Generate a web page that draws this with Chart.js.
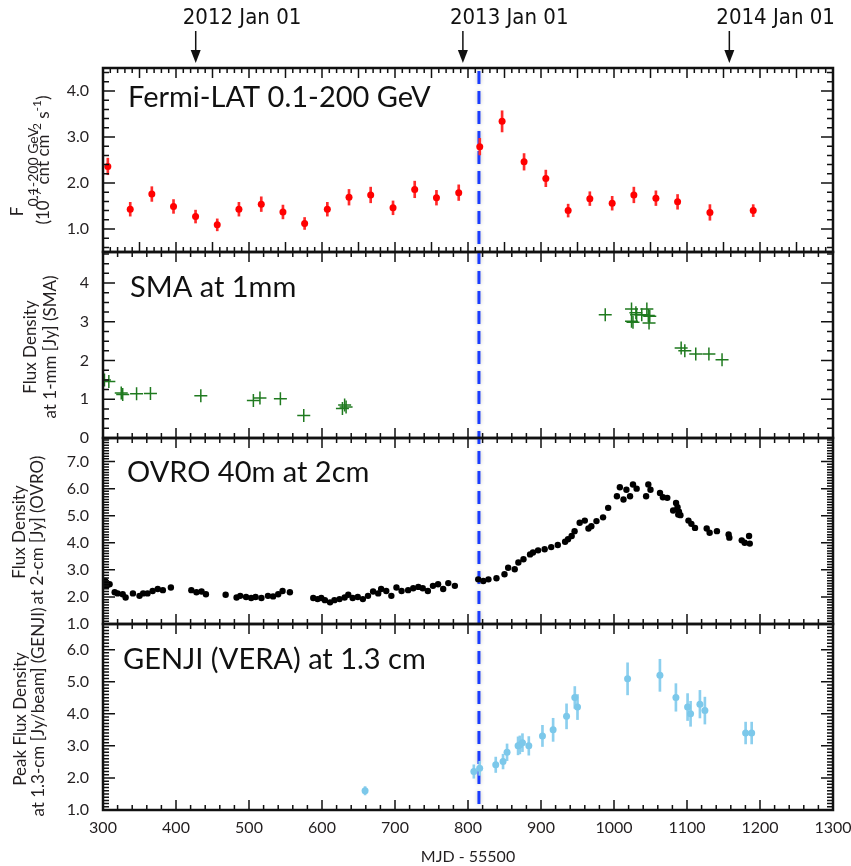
<!DOCTYPE html>
<html>
<head>
<meta charset="utf-8">
<script src="https://cdn.jsdelivr.net/npm/chart.js@4.4.0/dist/chart.umd.min.js"></script>
<style>
  html, body { margin: 0; padding: 0; background: #fff; }
  #wrap { position: relative; width: 851px; height: 866px; overflow: hidden; }
  #wrap canvas { position: absolute; left: 0; top: 0; }
</style>
</head>
<body>
<div id="wrap">
  <canvas id="fermi" width="880" height="866"></canvas>
  <canvas id="sma" width="880" height="866"></canvas>
  <canvas id="ovro" width="880" height="866"></canvas>
  <canvas id="genji" width="880" height="866"></canvas>
</div>
<script>
// shared x axis (MJD - 55500)
const xMin = 300, xMax = 1300;
const xTickValues = [300, 400, 500, 600, 700, 800, 900, 1000, 1100, 1200, 1300];

// calendar marks on top and the flare line
const dateLabels = ['2012 Jan 01', '2013 Jan 01', '2014 Jan 01'];
const dateMjd = [427, 793, 1158];
const flareMjd = 815;

// Fermi-LAT 0.1-200 GeV
const fermiMjd = [306.6, 337.3, 366.9, 396.6, 426.8, 456.5, 486.2, 516.8, 546.5, 576.2, 607.3, 637.0, 666.7, 697.3, 727.0,
  756.8, 787.3, 816.1, 846.7, 876.8, 906.6, 937.2, 966.9, 997.5, 1027.2, 1057.4, 1087.1, 1131.4, 1190.7];
const fermiFlux = [2.36, 1.43, 1.76, 1.49, 1.27, 1.09, 1.43, 1.54, 1.37, 1.12, 1.43, 1.69, 1.74, 1.46, 1.86,
  1.68, 1.79, 2.79, 3.34, 2.46, 2.10, 1.40, 1.66, 1.56, 1.74, 1.67, 1.59, 1.36, 1.40];
const fermiErr = [0.18, 0.15, 0.16, 0.15, 0.14, 0.13, 0.15, 0.16, 0.15, 0.13, 0.15, 0.17, 0.17, 0.15, 0.18,
  0.16, 0.17, 0.18, 0.23, 0.18, 0.18, 0.14, 0.15, 0.15, 0.17, 0.16, 0.16, 0.17, 0.13];
const fermiYTicks = [1, 2, 3, 4];
const fermiYLabels = ['1.0', '2.0', '3.0', '4.0'];

// SMA 1mm
const smaMjd = [302, 308, 325, 327, 346, 365, 434, 506, 515, 543, 575, 628, 631, 633,
  988, 1024, 1024, 1026, 1030, 1031, 1038, 1045, 1047, 1049, 1048, 1092, 1097, 1112, 1130, 1148];
const smaFlux = [1.50, 1.46, 1.16, 1.12, 1.14, 1.15, 1.09, 0.97, 1.03, 1.01, 0.58, 0.76, 0.85, 0.80,
  3.18, 3.33, 3.01, 2.99, 3.23, 3.18, 3.18, 3.33, 3.16, 3.14, 2.97, 2.32, 2.25, 2.17, 2.17, 2.02];
const smaYTicks = [0, 1, 2, 3, 4];
const smaYLabels = ['0', '1', '2', '3', '4'];

// OVRO 40m 2cm
const ovroMjd = [303, 305, 309, 316, 320, 327, 331, 341, 350, 355, 361, 368, 375, 382, 393, 421, 428, 435, 441, 468,
  483, 488, 496, 503, 509, 517, 526, 533, 540, 546, 556, 588, 594, 599, 604, 611, 617, 624, 631, 636,
  642, 649, 656, 663, 670, 677, 681, 688, 695, 702, 709, 718, 725, 732, 738, 745, 752, 759, 766, 773,
  782, 814, 821, 828, 839, 850, 855, 864, 869, 876, 885, 889, 896, 905, 914, 923, 933, 937, 942, 946,
  953, 960, 965, 969, 976, 985, 992, 1004, 1008, 1013, 1017, 1022, 1026, 1031, 1044, 1047, 1050, 1063, 1067, 1073,
  1081, 1085, 1087, 1088, 1089, 1091, 1102, 1106, 1111, 1127, 1131, 1141, 1157, 1158, 1175, 1179, 1185, 1186];
const ovroFlux = [2.59, 2.41, 2.47, 2.17, 2.13, 2.10, 1.98, 2.13, 2.04, 2.13, 2.13, 2.22, 2.29, 2.25, 2.35, 2.25, 2.17, 2.20, 2.10, 2.08,
  1.98, 2.04, 2.00, 1.96, 2.00, 1.96, 2.04, 2.02, 2.10, 2.22, 2.17, 1.96, 1.92, 1.96, 1.88, 1.80, 1.88, 1.92, 1.98, 2.08,
  1.96, 2.00, 1.92, 2.04, 2.20, 2.13, 2.29, 2.22, 2.04, 2.35, 2.22, 2.25, 2.32, 2.37, 2.32, 2.22, 2.41, 2.47, 2.29, 2.51,
  2.41, 2.65, 2.59, 2.65, 2.69, 2.84, 3.08, 3.02, 3.27, 3.39, 3.57, 3.64, 3.72, 3.76, 3.84, 3.92, 4.04, 4.13, 4.25, 4.43,
  4.74, 4.82, 4.53, 4.61, 4.80, 4.94, 5.29, 5.72, 6.05, 5.60, 5.96, 5.72, 6.15, 6.00, 5.72, 6.15, 5.96, 5.84, 5.68, 5.66,
  5.19, 5.47, 5.31, 5.04, 5.15, 5.02, 4.82, 4.70, 4.55, 4.53, 4.37, 4.43, 4.31, 4.19, 4.09, 4.00, 4.25, 3.97];
const ovroYTicks = [1, 2, 3, 4, 5, 6, 7];
const ovroYLabels = ['1.0', '2.0', '3.0', '4.0', '5.0', '6.0', '7.0'];

// GENJI (VERA) 1.3cm
const genjiMjd = [659, 808, 816, 838, 848, 853.5, 868.6, 871, 874.6, 883.3, 902, 916.6, 935, 946.3, 950,
  1018.6, 1062.9, 1084.8, 1100.8, 1104.9, 1117.7, 1124.5, 1180.3, 1188.6];
const genjiFlux = [1.60, 2.20, 2.30, 2.41, 2.51, 2.80, 3.00, 3.03, 3.10, 3.00, 3.31, 3.50, 3.92, 4.51, 4.21,
  5.09, 5.20, 4.51, 4.21, 4.00, 4.30, 4.10, 3.40, 3.40];
const genjiErr = [0.13, 0.21, 0.22, 0.24, 0.23, 0.26, 0.28, 0.28, 0.28, 0.29, 0.33, 0.36, 0.39, 0.34, 0.39,
  0.50, 0.50, 0.43, 0.42, 0.39, 0.43, 0.42, 0.34, 0.34];
const genjiYTicks = [1, 2, 3, 4, 5, 6];
const genjiYLabels = ['1.0', '2.0', '3.0', '4.0', '5.0', '6.0'];

const FONT = "Lato, 'Open Sans', sans-serif";
const INK = '#231f20';

// draws rotated (bottom-to-top) text made of parts [text, size, shift]
function drawVertical(ctx, x, y, parts) {
    ctx.save();
    ctx.translate(x, y);
    ctx.rotate(-Math.PI / 2);
    ctx.textBaseline = 'middle';
    ctx.textAlign = 'left';
    let w = 0;
    parts.forEach(p => { ctx.font = p[1] + 'px ' + FONT; w += ctx.measureText(p[0]).width; });
    let cx = -w / 2;
    parts.forEach(p => {
        ctx.font = p[1] + 'px ' + FONT;
        ctx.fillText(p[0], cx, p[2]);
        cx += ctx.measureText(p[0]).width;
    });
    ctx.restore();
}

function makeFrame(p) {
    return {
        id: 'frame_' + p.id,
        beforeDatasetsDraw(chart) {
            const ctx = chart.ctx, a = chart.chartArea;
            const x = chart.scales.x.getPixelForValue(flareMjd);
            const y0 = p.id === 'fermi' ? a.top + 3 : a.top;
            ctx.save();
            ctx.strokeStyle = '#1a3cff';
            ctx.lineWidth = 3;
            ctx.setLineDash([13, 7]);
            ctx.lineDashOffset = (y0 - 71) % 20;
            ctx.shadowColor = 'rgba(0,0,0,0.25)';
            ctx.shadowBlur = 4;
            ctx.beginPath();
            ctx.moveTo(x, y0);
            ctx.lineTo(x, a.bottom);
            ctx.stroke();
            ctx.restore();
        },
        afterDraw(chart) {
            const ctx = chart.ctx, a = chart.chartArea;
            const xs = chart.scales.x, ys = chart.scales.y;
            ctx.save();
            ctx.strokeStyle = '#111';
            ctx.lineWidth = 1.5;
            ctx.beginPath();
            for (let k = Math.ceil(xMin / p.xMinor); k * p.xMinor <= xMax + 1e-9; k++) {
                const v = k * p.xMinor;
                const px = xs.getPixelForValue(v);
                const len = Math.abs(v / p.xMajor - Math.round(v / p.xMajor)) < 1e-6 ? 10 : 5;
                ctx.moveTo(px, a.top); ctx.lineTo(px, a.top + len);
                ctx.moveTo(px, a.bottom); ctx.lineTo(px, a.bottom - len);
            }
            for (let k = Math.ceil(p.yMin / p.yMinor - 1e-9); k * p.yMinor <= p.yMax + 1e-9; k++) {
                const v = k * p.yMinor;
                const py = ys.getPixelForValue(v);
                const len = Math.abs(v - Math.round(v)) < 1e-6 ? 12 : 6;
                ctx.moveTo(a.left, py); ctx.lineTo(a.left + len, py);
                ctx.moveTo(a.right, py); ctx.lineTo(a.right - len, py);
            }
            ctx.stroke();
            ctx.lineWidth = 2.5;
            ctx.strokeRect(a.left, a.top, a.right - a.left, a.bottom - a.top);

            ctx.fillStyle = '#111';
            ctx.font = '29px ' + FONT;
            ctx.textAlign = 'left';
            ctx.textBaseline = 'alphabetic';
            ctx.fillText(p.title, p.titleX, p.titleY);

            ctx.fillStyle = INK;
            p.yTitle.forEach(line => drawVertical(ctx, line.x, line.y, line.parts));

            if (p.id === 'fermi') {
                ctx.font = "22px 'Liberation Sans Narrow', 'DejaVu Sans Condensed', sans-serif";
                ctx.textAlign = 'left';
                ctx.textBaseline = 'middle';
                ctx.fillStyle = '#111';
                ctx.strokeStyle = '#111';
                ctx.lineWidth = 1.5;
                dateLabels.forEach((lab, i) => {
                    const px = xs.getPixelForValue(dateMjd[i]);
                    ctx.fillText(lab, px - 13, 18);
                    ctx.beginPath();
                    ctx.moveTo(px, 31); ctx.lineTo(px, 55);
                    ctx.stroke();
                    ctx.beginPath();
                    ctx.moveTo(px - 5, 50); ctx.lineTo(px + 5, 50); ctx.lineTo(px, 63); ctx.closePath();
                    ctx.fill();
                });
            }
            ctx.restore();
        }
    };
}

function errorBars(mjd, flux, err, color) {
    return {
        type: 'bar',
        data: mjd.map((m, i) => ({ x: m, y: [flux[i] - err[i], flux[i] + err[i]] })),
        backgroundColor: color,
        borderWidth: 0,
        barThickness: 2,
        order: 2
    };
}

function makeChart(p, datasets) {
    const bottom = p.id === 'genji';
    return new Chart(document.getElementById(p.id), {
        type: 'scatter',
        data: { datasets },
        options: {
            responsive: false,
            animation: false,
            layout: { padding: { left: 0, right: 880 - 833, top: p.top, bottom: bottom ? 0 : 866 - p.bottom } },
            plugins: { legend: { display: false }, tooltip: { enabled: false } },
            scales: {
                x: {
                    type: 'linear', min: xMin, max: xMax, offset: false, display: bottom,
                    afterBuildTicks: s => { s.ticks = xTickValues.map(v => ({ value: v })); },
                    ticks: { callback: v => String(v), font: { family: FONT, size: 16 }, color: INK, padding: 8, maxRotation: 0, autoSkip: false },
                    grid: { display: false, drawTicks: false },
                    border: { display: false },
                    title: { display: true, text: 'MJD - 55500', font: { family: FONT, size: 16 }, color: INK, padding: 0 },
                    afterFit: s => { s.height = bottom ? 866 - p.bottom : 0; }
                },
                y: {
                    type: 'linear', position: 'left', min: p.yMin, max: p.yMax,
                    afterBuildTicks: s => { s.ticks = p.yTicks.map(v => ({ value: v })); },
                    ticks: { callback: (v, i) => p.yLabels[i], font: { family: FONT, size: 16 }, color: INK, padding: 14 },
                    grid: { display: false, drawTicks: false },
                    border: { display: false },
                    afterFit: s => { s.width = 103; }
                }
            }
        },
        plugins: [makeFrame(p)]
    });
}

const panels = {
    fermi: { id: 'fermi', top: 68, bottom: 252, yMin: 0.5, yMax: 4.5, yTicks: fermiYTicks, yLabels: fermiYLabels,
        yMinor: 0.2, xMinor: 10, xMajor: 50, title: 'Fermi-LAT 0.1-200 GeV', titleX: 128, titleY: 107,
        yTitle: [
            { x: 18, y: 172, parts: [['F', 17, 0], ['0.1-200 GeV', 14, 15]] },
            { x: 44, y: 160, parts: [['(10', 17, 0], ['-7', 12, -7], [' cnt cm', 17, 0], ['-2', 12, -7], [' s', 17, 0], ['-1', 12, -7], [')', 17, 0]] }
        ] },
    sma: { id: 'sma', top: 252, bottom: 438, yMin: 0, yMax: 4.8, yTicks: smaYTicks, yLabels: smaYLabels,
        yMinor: 0.25, xMinor: 20, xMajor: 100, title: 'SMA at 1mm', titleX: 130, titleY: 297,
        yTitle: [
            { x: 31, y: 347, parts: [['Flux Density', 17, 0]] },
            { x: 51, y: 347, parts: [['at 1-mm [Jy] (SMA)', 17, 0]] }
        ] },
    ovro: { id: 'ovro', top: 438, bottom: 624, yMin: 1, yMax: 7.87, yTicks: ovroYTicks, yLabels: ovroYLabels,
        yMinor: 0.1, xMinor: 20, xMajor: 100, title: 'OVRO 40m at 2cm', titleX: 127, titleY: 482,
        yTitle: [
            { x: 20, y: 532, parts: [['Flux Density', 17, 0]] },
            { x: 38, y: 530, parts: [['at 2-cm [Jy] (OVRO)', 17, 0]] }
        ] },
    genji: { id: 'genji', top: 624, bottom: 810, yMin: 1, yMax: 6.8, yTicks: genjiYTicks, yLabels: genjiYLabels,
        yMinor: 0.1, xMinor: 20, xMajor: 100, title: 'GENJI (VERA) at 1.3 cm', titleX: 123, titleY: 669,
        yTitle: [
            { x: 21, y: 719, parts: [['Peak Flux Density', 17, 0]] },
            { x: 39, y: 712, parts: [['at 1.3-cm [Jy/beam] (GENJI)', 17, 0]] }
        ] }
};

const pts = (xs, ys) => xs.map((x, i) => ({ x, y: ys[i] }));

makeChart(panels.fermi, [
    { data: pts(fermiMjd, fermiFlux), backgroundColor: '#ff0000', borderColor: '#ff0000', borderWidth: 0, pointRadius: 3.5, order: 1 },
    errorBars(fermiMjd, fermiFlux, fermiErr, '#ff2a2a')
]);

makeChart(panels.sma, [
    { data: pts(smaMjd, smaFlux), pointStyle: 'cross', pointRadius: 6.5, borderColor: '#1f7a1f', backgroundColor: '#1f7a1f', borderWidth: 1.5 }
]);

makeChart(panels.ovro, [
    { data: pts(ovroMjd, ovroFlux), backgroundColor: '#000', borderColor: '#000', borderWidth: 0, pointRadius: 3.2 }
]);

makeChart(panels.genji, [
    { data: pts(genjiMjd, genjiFlux), backgroundColor: '#7cc8ea', borderColor: '#7cc8ea', borderWidth: 0, pointRadius: 3.5, order: 1 },
    errorBars(genjiMjd, genjiFlux, genjiErr, '#8ccfee')
]);
</script>
</body>
</html>
